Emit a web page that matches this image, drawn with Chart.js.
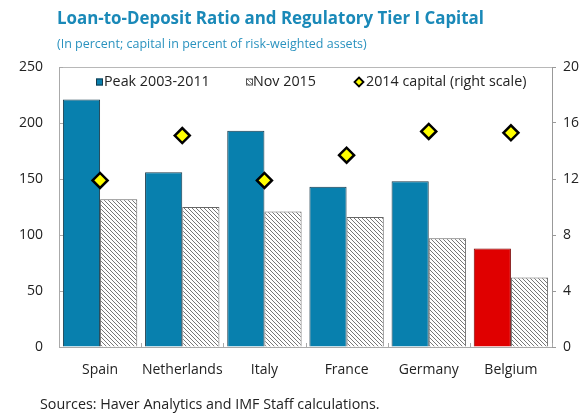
<!DOCTYPE html>
<html><head><meta charset="utf-8">
<script src="https://cdn.jsdelivr.net/npm/chart.js@4.4.1/dist/chart.umd.min.js"></script>
<style>
html,body{margin:0;padding:0;background:#fff;}
#wrap{position:relative;width:583px;height:413px;overflow:hidden;}
#c{position:absolute;left:0;top:0;}
.t{position:absolute;white-space:nowrap;font-family:'Open Sans',sans-serif;line-height:1;}
</style></head><body>
<div id="wrap">
<canvas id="c" width="583" height="413"></canvas>
<div class="t" style="left:57px;top:10px;font-size:16.9px;font-weight:bold;color:#1a89b8;">Loan-to-Deposit Ratio and Regulatory Tier I Capital</div>
<div class="t" style="left:57px;top:38px;font-size:12.5px;color:#2a92bf;">(In percent; capital in percent of risk-weighted assets)</div>
<div class="t" style="left:40px;top:397px;font-size:14.3px;color:#222;">Sources: Haver Analytics and IMF Staff calculations.</div>
</div>
<script>
const categories = ['Spain','Netherlands','Italy','France','Germany','Belgium'];
const peak20032011 = [221,156,193,143,148,88];
const nov2015 = [132,125,121,116,97,62];
const capital2014 = [11.9,15.1,11.9,13.7,15.4,15.3];
const leftTicks = [0,50,100,150,200,250];
const rightTicks = [0,4,8,12,16,20];
const legendLabels = ['Peak 2003-2011','Nov 2015','2014 capital (right scale)'];

const BLUE = '#0880ae', RED = '#e00000';

function makeHatch(){
  const c = document.createElement('canvas'); c.width = 4; c.height = 4;
  const g = c.getContext('2d');
  g.fillStyle = '#fff'; g.fillRect(0,0,4,4);
  g.strokeStyle = '#777777'; g.lineWidth = 1.0;
  g.beginPath();
  g.moveTo(-1,-1); g.lineTo(5,5);
  g.moveTo(-1,3); g.lineTo(1,5);
  g.moveTo(3,-1); g.lineTo(5,1);
  g.stroke();
  return g.createPattern(c,'repeat');
}
const hatch = makeHatch();

Chart.defaults.font.family = "'Open Sans', sans-serif";
Chart.defaults.color = '#222';

const extras = {
  id:'extras',
  afterDraw(chart){
    const {ctx, chartArea:a, scales} = chart;
    ctx.save();
    ctx.strokeStyle = '#b8b8b8'; ctx.lineWidth = 1;
    ctx.beginPath(); ctx.moveTo(a.left, a.top+0.5); ctx.lineTo(a.right, a.top+0.5); ctx.stroke();
    ctx.strokeStyle = '#aaa';
    leftTicks.forEach(v=>{
      const y = Math.round(scales.y.getPixelForValue(v))+0.5;
      ctx.beginPath(); ctx.moveTo(a.left, y); ctx.lineTo(a.left+4, y); ctx.stroke();
    });
    const xs = scales.x;
    const half = (xs.getPixelForValue(1)-xs.getPixelForValue(0))/2;
    for(let i=0;i<=categories.length;i++){
      const x = Math.round(xs.getPixelForValue(i) - half)+0.5;
      ctx.beginPath(); ctx.moveTo(x, a.bottom); ctx.lineTo(x, a.bottom-4); ctx.stroke();
    }
    ctx.font = "14.3px 'Open Sans', sans-serif";
    ctx.textBaseline = 'middle'; ctx.textAlign = 'left';
    const ly = 82;
    ctx.fillStyle = BLUE; ctx.fillRect(96, ly-3.5, 7, 7);
    ctx.strokeStyle = '#17394a'; ctx.strokeRect(96.5, ly-3, 6, 6);
    ctx.fillStyle = '#222'; ctx.fillText(legendLabels[0], 104, ly);
    ctx.fillStyle = hatch; ctx.fillRect(246, ly-3.5, 7, 7);
    ctx.strokeStyle = '#555'; ctx.strokeRect(246.5, ly-3, 6, 6);
    ctx.fillStyle = '#222'; ctx.fillText(legendLabels[1], 253, ly);
    ctx.beginPath(); ctx.moveTo(359, ly-4.5); ctx.lineTo(363.5, ly); ctx.lineTo(359, ly+4.5); ctx.lineTo(354.5, ly); ctx.closePath();
    ctx.fillStyle = '#ffff00'; ctx.fill(); ctx.strokeStyle = '#000'; ctx.lineWidth = 1.8; ctx.stroke();
    ctx.fillStyle = '#222'; ctx.fillText(legendLabels[2], 366, ly);
    ctx.restore();
  }
};

new Chart(document.getElementById('c'), {
  data:{
    labels: categories,
    datasets:[
      {type:'line', label:legendLabels[2], data:capital2014, yAxisID:'y1', showLine:false,
       pointStyle:'rectRot', pointRadius:7.5, pointHoverRadius:7.5, pointBackgroundColor:'#ffff00',
       pointBorderColor:'#000', pointBorderWidth:2.5, order:0},
      {type:'bar', label:legendLabels[0], data:peak20032011, yAxisID:'y',
       backgroundColor: categories.map(c=> c==='Belgium'?RED:BLUE),
       borderColor: categories.map(c=> c==='Belgium'?'#7a0000':'#17394a'), borderWidth:1,
       categoryPercentage:0.905, barPercentage:1.0, order:1},
      {type:'bar', label:legendLabels[1], data:nov2015, yAxisID:'y',
       backgroundColor: hatch, borderColor:'#666', borderWidth:1,
       categoryPercentage:0.905, barPercentage:1.0, order:1}
    ]
  },
  options:{
    responsive:false, animation:false,
    layout:{padding:{top:67,bottom:26,left:0,right:0}},
    plugins:{legend:{display:false}, tooltip:{enabled:false}},
    scales:{
      x:{offset:true, grid:{display:false, drawTicks:false},
         border:{display:true, color:'#aaa'},
         ticks:{font:{size:14}, color:'#222', padding:15, maxRotation:0, autoSkip:false},
         afterFit(s){ s.height = 40; }},
      y:{position:'left', min:0, max:250,
         afterBuildTicks(s){ s.ticks = leftTicks.map(v=>({value:v})); },
         grid:{drawOnChartArea:false, drawTicks:false},
         border:{display:true, color:'#aaa'},
         ticks:{font:{size:14}, color:'#222', padding:16},
         afterFit(s){ s.width = 59; }},
      y1:{position:'right', min:0, max:20,
         afterBuildTicks(s){ s.ticks = rightTicks.map(v=>({value:v})); },
         grid:{drawOnChartArea:false, drawTicks:true, tickLength:4, color:'#999'},
         border:{display:true, color:'#999'},
         ticks:{font:{size:14}, color:'#222', padding:7},
         afterFit(s){ s.width = 31; }}
    }
  },
  plugins:[extras]
});
</script>
</body></html>
